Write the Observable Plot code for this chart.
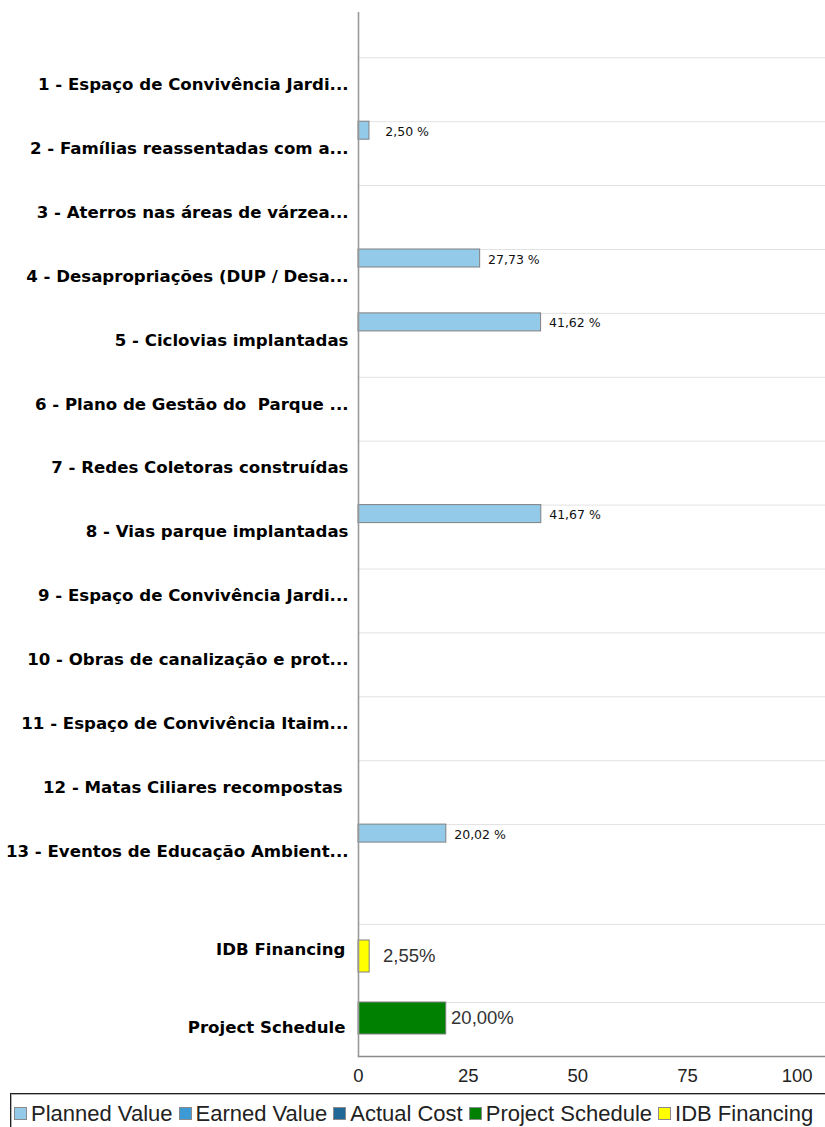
<!DOCTYPE html>
<html>
<head>
<meta charset="utf-8">
<script src="https://cdn.jsdelivr.net/npm/d3@7"></script>
<script src="https://cdn.jsdelivr.net/npm/@observablehq/plot@0.6"></script>
<style>
  html, body { margin: 0; padding: 0; background: #fff; width: 825px; height: 1127px; overflow: hidden; position: relative; }
  svg { display: block; }
  svg text { white-space: pre; }
  #legend {
    position: absolute; left: 10px; top: 1093px; width: 900px; height: 60px;
    border: 1px solid #222; box-shadow: inset 1px 1px 0 #b0b0b0;
    display: flex; align-items: flex-start; flex-wrap: nowrap;
    padding: 9px 0 0 3px; box-sizing: border-box;
    font-family: "Liberation Sans", Arial, sans-serif; font-size: 22px; color: #222; line-height: 21px;
  }
  .item { display: flex; align-items: center; margin-right: 6px; white-space: nowrap; }
  .sw { width: 11px; height: 11px; border: 1px solid #8a8a8a; margin-right: 4px; flex: none; }
</style>
</head>
<body>
<div id="top"></div>
<div id="bottom"></div>
<div id="legend"></div>
<script>
// ---------- data ----------
const categories = [
  "1 - Espaço de Convivência Jardi...",
  "2 - Famílias reassentadas com a...",
  "3 - Aterros nas áreas de várzea...",
  "4 - Desapropriações (DUP / Desa...",
  "5 - Ciclovias implantadas",
  "6 - Plano de Gestão do  Parque ...",
  "7 - Redes Coletoras construídas",
  "8 - Vias parque implantadas",
  "9 - Espaço de Convivência Jardi...",
  "10 - Obras de canalização e prot...",
  "11 - Espaço de Convivência Itaim...",
  "12 - Matas Ciliares recompostas ",
  "13 - Eventos de Educação Ambient..."
];
const plannedValue = [0, 2.50, 0, 27.73, 41.62, 0, 0, 41.67, 0, 0, 0, 0, 20.02];
const earnedValue  = [0, 0, 0, 0, 0, 0, 0, 0, 0, 0, 0, 0, 0];
const actualCost   = [0, 0, 0, 0, 0, 0, 0, 0, 0, 0, 0, 0, 0];

const summaryRows   = ["IDB Financing", "Project Schedule"];
const summaryValues = [2.55, 20.00];

const xTicks = [0, 25, 50, 75, 100];

const seriesNames  = ["Planned Value", "Earned Value", "Actual Cost", "Project Schedule", "IDB Financing"];
const seriesColors = ["#93c9e9", "#3d9ad6", "#1f6897", "#008000", "#ffff00"];

// ---------- layout ----------
const W = 825, ML = 358, XMAX = 106.45;
const H1 = 888, TOP_BAND = 57.3;
const BAND1 = (H1 - TOP_BAND) / categories.length;
const SUB = 18;                       // height of one series bar inside a category band
const labelFont = "DejaVu Sans, Verdana, sans-serif";
const plainFont = "Liberation Sans, Arial, sans-serif";
const fmtPct = v => v.toFixed(2).replace(".", ",") + " %";
const fmtPct2 = v => v.toFixed(2).replace(".", ",") + "%";

const seriesArrays = [plannedValue, earnedValue, actualCost];
const rows = categories.flatMap((c, i) =>
  seriesArrays.map((arr, k) => ({cat: c, series: seriesNames[k], k, v: arr[i]})));

const barMarks = [];
seriesArrays.forEach((arr, k) => {
  const data = rows.filter(d => d.k === k && d.v > 0);
  barMarks.push(Plot.barX(data, {
    x: "v", y: "cat", fill: seriesColors[k], stroke: "#808080", strokeWidth: 1,
    insetTop: k * SUB, insetBottom: BAND1 - (k + 1) * SUB
  }));
  barMarks.push(Plot.text(data, {
    x: d => Math.max(d.v + 1.8, 6.1), y: "cat", text: d => fmtPct(d.v),
    textAnchor: "start", dy: -BAND1 / 2 + SUB / 2 + k * SUB + 1,
    fontFamily: labelFont, fontSize: 12.5, fill: "#111"
  }));
});

const topChart = Plot.plot({
  width: W, height: H1,
  marginLeft: ML, marginRight: 0, marginTop: 12, marginBottom: 0,
  style: {background: "transparent", fontFamily: plainFont},
  x: {domain: [0, XMAX], axis: null},
  y: {type: "band", domain: categories, range: [TOP_BAND, H1], padding: 0, round: false, axis: null},
  marks: [
    Plot.ruleY(categories, {y: d => d, dy: -BAND1 / 2, stroke: "#e2e2e2", strokeWidth: 1}),
    ...barMarks,
    Plot.ruleX([0], {stroke: "#999", strokeWidth: 1.6}),
    Plot.text(categories, {
      y: d => d, text: d => d, frameAnchor: "left", textAnchor: "end", dx: -10, dy: -5,
      fontFamily: labelFont, fontWeight: "bold", fontSize: 16.6, fill: "#000"
    })
  ]
});
document.getElementById("top").appendChild(topChart);

// ---------- bottom chart (summary rows + x axis) ----------
const H2 = 204, MB2 = 36, R0 = 36, BAND2 = 78;
const summary = summaryRows.map((r, i) => ({row: r, v: summaryValues[i]}));
const idb = summary.filter(d => d.row === "IDB Financing");
const ps = summary.filter(d => d.row === "Project Schedule");

const bottomChart = Plot.plot({
  width: W, height: H2,
  marginLeft: ML, marginRight: 0, marginTop: 0, marginBottom: MB2,
  style: {background: "transparent", fontFamily: plainFont, fontSize: "18.5px", color: "#222"},
  x: {domain: [0, XMAX], axis: null},
  y: {type: "band", domain: summaryRows, range: [R0, R0 + 2 * BAND2], padding: 0, round: false, axis: null},
  marks: [
    Plot.ruleY(summaryRows, {y: d => d, dy: -BAND2 / 2, stroke: "#e2e2e2", strokeWidth: 1}),
    Plot.barX(idb, {x: "v", y: "row", fill: seriesColors[4], stroke: "#808080", insetTop: 16, insetBottom: 30}),
    Plot.barX(ps, {x: "v", y: "row", fill: seriesColors[3], stroke: "#808080", insetTop: 0, insetBottom: 46}),
    Plot.text(idb, {x: d => Math.max(d.v + 1.1, 5.6), y: "row", text: d => fmtPct2(d.v), textAnchor: "start", dy: -7,
      fontFamily: plainFont, fontSize: 18.5, fill: "#333"}),
    Plot.text(ps, {x: d => Math.max(d.v + 1.1, 5.6), y: "row", text: d => fmtPct2(d.v), textAnchor: "start", dy: -23,
      fontFamily: plainFont, fontSize: 18.5, fill: "#333"}),
    Plot.ruleX([0], {stroke: "#999", strokeWidth: 1.6}),
    Plot.frame({anchor: "bottom", stroke: "#8a8a8a", strokeWidth: 1.6}),
    Plot.axisX({ticks: xTicks, tickSize: 0, tickPadding: 12, label: null,
      fontFamily: plainFont, fontSize: 18.5, fill: "#222"}),
    Plot.text(summaryRows, {
      y: d => d, text: d => d, frameAnchor: "left", textAnchor: "end", dx: -13, dy: -14,
      fontFamily: labelFont, fontWeight: "bold", fontSize: 16.6, fill: "#000"
    })
  ]
});
document.getElementById("bottom").appendChild(bottomChart);

// ---------- legend ----------
const legend = document.getElementById("legend");
seriesNames.forEach((name, i) => {
  const item = document.createElement("div");
  item.className = "item";
  const sw = document.createElement("span");
  sw.className = "sw";
  sw.style.background = seriesColors[i];
  const t = document.createElement("span");
  t.textContent = name;
  item.appendChild(sw);
  item.appendChild(t);
  legend.appendChild(item);
});
</script>
</body>
</html>
